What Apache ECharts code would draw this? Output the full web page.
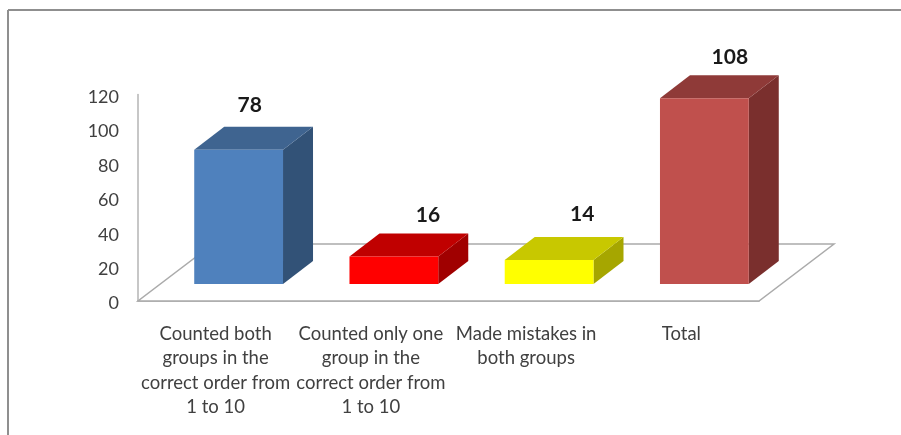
<!DOCTYPE html>
<html>
<head>
<meta charset="utf-8">
<style>
  html, body { margin: 0; padding: 0; background: #fff; }
  #chart { width: 901px; height: 435px; }
</style>
</head>
<body>
<div id="chart"></div>
<script src="https://cdn.jsdelivr.net/npm/echarts@6/dist/echarts.min.js"></script>
<script>
const categories = [
  "Counted both\ngroups in the\ncorrect order from\n1 to 10",
  "Counted only one\ngroup in the\ncorrect order from\n1 to 10",
  "Made mistakes in\nboth groups",
  "Total",
]
const values = [78, 16, 14, 108]
const frontColors = ["#4f81bd", "#ff0000", "#ffff00", "#c0504d"]
const topColors = ["#3f6490", "#c00000", "#c8c800", "#8f3a38"]
const sideColors = ["#325277", "#a00000", "#a6a600", "#7a2f2d"]

// pseudo 3D layout, in pixels
const depthX = 30
const depthY = 23
const shiftX = 23
const shiftY = 17
const floorX = 75
const floorY = 57
const labelDx = [11, 34, 33, 25.5]
const labelDy = [22, 18, 23, 18]
const fontName = "Lato, Carlito, sans-serif"

function renderFloor(params, api) {
  const y0 = api.coord([0, 0])
  const halfBand = api.size([1, 0])[0] / 2
  const left = y0[0] - halfBand
  const right = api.coord([categories.length - 1, 0])[0] + halfBand
  return {
    type: "polygon",
    shape: {
      points: [
        [left, y0[1]],
        [right, y0[1]],
        [right + floorX, y0[1] - floorY],
        [left + floorX, y0[1] - floorY],
      ],
    },
    style: { fill: "#ffffff", stroke: "#ababab", lineWidth: 1.5 },
  }
}

function renderBar(params, api) {
  const i = params.dataIndex
  const top = api.coord([i, api.value(1)])
  const base = api.coord([i, 0])
  const halfW = api.size([1, 0])[0] * 0.286
  const x0 = top[0] + shiftX - halfW
  const x1 = top[0] + shiftX + halfW
  const yT = top[1] - shiftY
  const yB = base[1] - shiftY
  return {
    type: "group",
    children: [
      {
        type: "polygon",
        shape: { points: [[x1, yT], [x1 + depthX, yT - depthY], [x1 + depthX, yB - depthY], [x1, yB]] },
        style: { fill: sideColors[i] },
      },
      {
        type: "polygon",
        shape: { points: [[x0, yT], [x0 + depthX, yT - depthY], [x1 + depthX, yT - depthY], [x1, yT]] },
        style: { fill: topColors[i] },
      },
      {
        type: "rect",
        shape: { x: x0, y: yT, width: x1 - x0, height: yB - yT },
        style: { fill: frontColors[i] },
      },
      {
        type: "text",
        style: {
          x: top[0] + shiftX + labelDx[i],
          y: yT - depthY - labelDy[i],
          text: String(values[i]),
          fill: "#1a1a1a",
          font: "bold 21px " + fontName,
          align: "center",
          verticalAlign: "middle",
        },
      },
    ],
  }
}

const myChart = echarts.init(document.getElementById("chart"), null, { renderer: "canvas" })

myChart.setOption({
  animation: false,
  backgroundColor: "#ffffff",
  grid: { left: 138, right: 142, top: 94.6, bottom: 134 },
  graphic: [
    { type: "line", shape: { x1: 8, y1: 10, x2: 901, y2: 10 }, style: { stroke: "#8f8f8f", lineWidth: 2 } },
    { type: "line", shape: { x1: 8, y1: 10, x2: 8, y2: 435 }, style: { stroke: "#8f8f8f", lineWidth: 2 } },
  ],
  xAxis: {
    type: "category",
    data: categories,
    axisTick: { show: false },
    axisLine: { lineStyle: { color: "#a6a6a6", width: 1.5 } },
    axisLabel: {
      interval: 0,
      margin: 21,
      color: "#404040",
      fontFamily: fontName,
      fontSize: 18.5,
      lineHeight: 24.3,
      hideOverlap: false,
    },
  },
  yAxis: {
    type: "value",
    min: 0,
    max: 120,
    interval: 20,
    axisLine: { show: true, lineStyle: { color: "#b5b5b5", width: 1.5 } },
    axisTick: { show: false },
    splitLine: { show: false },
    axisLabel: { margin: 19, color: "#404040", fontFamily: fontName, fontSize: 18, verticalAlign: "top", lineHeight: 5 },
  },
  series: [
    {
      type: "custom",
      renderItem: renderFloor,
      data: [[0, 0]],
      encode: { x: 0, y: 1 },
      silent: true,
      z: 1,
    },
    {
      type: "custom",
      renderItem: renderBar,
      data: values.map((v, i) => [i, v]),
      encode: { x: 0, y: 1 },
      z: 2,
    },
  ],
})
</script>
</body>
</html>
